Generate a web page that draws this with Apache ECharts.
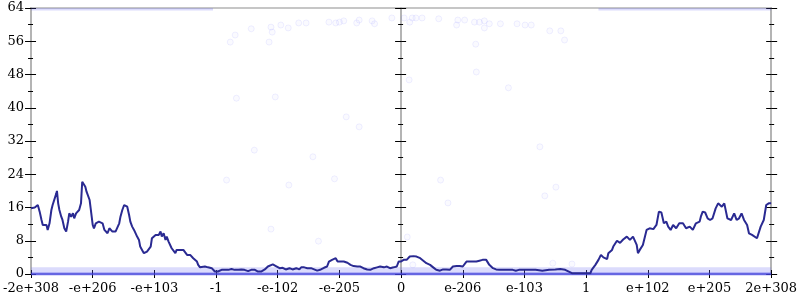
<!DOCTYPE html>
<html><head><meta charset="utf-8">
<script src="https://cdn.jsdelivr.net/npm/echarts@6/dist/echarts.min.js"></script>
<style>html,body{margin:0;padding:0;background:#fff}#c{width:800px;height:300px}</style>
</head><body><div id="c"></div>
<script>
const xTickLabels = ['-2e+308','-e+206','-e+103','-1','-e-102','-e-205','0','e-206','e-103','1','e+102','e+205','2e+308'];
const yTicks = [0, 8, 16, 24, 32, 40, 48, 56, 64];

const lineValues = [
[-6.00,15.8],[-5.97,15.6],[-5.94,16.0],[-5.91,15.6],[-5.89,16.6],[-5.86,15.0],[-5.83,13.0],[-5.81,11.8],[-5.78,11.4],[-5.75,11.8],[-5.73,10.6],[-5.70,12.2],[-5.67,15.4],[-5.65,16.6],[-5.62,16.6],[-5.59,19.4],[-5.58,20.0],[-5.56,17.0],[-5.54,15.4],[-5.51,13.8],[-5.49,13.0],[-5.46,11.0],[-5.43,10.2],[-5.40,12.6],[-5.38,14.6],[-5.35,13.8],[-5.32,14.6],[-5.30,13.4],[-5.27,14.6],[-5.24,15.0],[-5.22,15.4],[-5.19,17.0],[-5.17,22.2],[-5.15,22.6],[-5.12,21.0],[-5.10,19.8],[-5.07,19.8],[-5.05,17.8],[-5.03,15.4],[-5.00,11.8],[-4.98,11.0],[-4.95,12.2],[-4.92,11.8],[-4.90,12.6],[-4.87,12.2],[-4.84,12.2],[-4.81,10.6],[-4.79,11.0],[-4.76,9.8],[-4.73,11.0],[-4.71,10.6],[-4.68,10.2],[-4.65,10.6],[-4.63,10.2],[-4.60,10.6],[-4.57,12.2],[-4.55,13.8],[-4.52,15.4],[-4.49,16.6],[-4.47,16.6],[-4.44,16.2],[-4.41,14.2],[-4.39,12.6],[-4.36,11.4],[-4.33,10.6],[-4.31,10.2],[-4.28,9.0],[-4.25,8.2],[-4.23,6.6],[-4.20,5.8],[-4.17,5.0],[-4.14,4.6],[-4.12,5.4],[-4.09,5.4],[-4.06,6.6],[-4.04,8.6],[-4.01,9.0],[-3.98,9.4],[-3.96,9.8],[-3.93,9.4],[-3.90,10.2],[-3.88,9.0],[-3.85,9.8],[-3.82,8.2],[-3.80,9.0],[-3.77,7.8],[-3.74,7.4],[-3.72,6.2],[-3.69,5.8],[-3.66,5.0],[-3.64,5.8],[-3.61,6.2],[-3.58,5.8],[-3.55,6.2],[-3.53,5.8],[-3.50,5.4],[-3.47,4.6],[-3.45,4.2],[-3.42,4.6],[-3.39,4.6],[-3.37,3.8],[-3.34,3.4],[-3.31,3.0],[-3.29,2.2],[-3.26,1.6],[-3.23,1.4],[-3.18,1.8],[-3.13,1.6],[-3.07,1.4],[-3.02,0.6],[-2.97,0.6],[-2.91,1.0],[-2.86,1.0],[-2.80,1.0],[-2.75,1.2],[-2.70,1.0],[-2.64,1.0],[-2.59,1.1],[-2.54,1.0],[-2.48,0.7],[-2.43,1.0],[-2.37,1.0],[-2.32,0.6],[-2.27,0.6],
[-2.21,1.1],[-2.16,1.8],[-2.08,2.3],[-2.03,1.9],[-1.97,1.4],[-1.92,1.5],[-1.87,1.1],[-1.81,1.4],[-1.76,1.1],[-1.70,1.4],[-1.65,1.1],[-1.62,1.6],[-1.57,1.6],[-1.52,1.4],[-1.46,1.4],[-1.41,1.1],[-1.36,0.8],[-1.30,1.1],[-1.25,1.5],[-1.20,1.8],[-1.17,3.0],[-1.12,3.4],[-1.06,3.8],[-1.03,3.0],[-0.98,3.0],[-0.93,3.0],[-0.87,2.7],[-0.82,2.2],[-0.77,1.9],[-0.71,1.8],[-0.66,1.8],[-0.61,1.4],[-0.55,1.1],[-0.50,1.0],[-0.44,1.4],[-0.39,1.6],[-0.34,1.8],[-0.28,1.6],[-0.23,1.8],[-0.18,1.4],[-0.12,1.6],[-0.07,1.8],[-0.04,3.0],[0.00,3.0],[0.04,3.4],[0.09,3.4],[0.14,4.2],[0.20,4.3],[0.25,4.2],[0.31,3.8],[0.36,3.2],[0.41,2.6],[0.47,2.2],[0.52,1.6],[0.57,1.0],[0.63,0.8],[0.68,1.1],[0.73,1.1],[0.79,1.0],[0.84,1.8],[0.90,1.9],[0.95,1.9],[1.00,1.8],[1.06,3.0],[1.11,3.0],[1.16,3.0],[1.22,3.0],[1.27,3.2],[1.32,3.4],[1.38,3.4],[1.43,2.2],[1.49,1.4],[1.54,1.1],[1.59,1.0],[1.65,1.0],[1.70,1.0],[1.75,1.0],[1.81,1.0],[1.86,0.8],[1.91,1.0],[1.97,1.0],[2.02,1.0],
[2.18,1.0],[2.29,0.8],[2.40,1.0],[2.50,1.1],[2.58,1.2],[2.66,1.0],[2.77,0.2],[2.88,0.2],[2.99,0.2],[3.07,0.2],[3.09,1.0],[3.15,2.2],[3.20,3.4],[3.24,4.6],[3.28,4.0],[3.34,3.6],[3.36,5.0],[3.42,5.8],[3.44,6.6],[3.50,8.0],[3.55,7.5],[3.60,8.3],[3.66,9.0],[3.71,8.2],[3.76,9.0],[3.82,7.0],[3.84,5.0],[3.87,5.8],[3.90,5.4],[3.92,7.0],[3.98,10.6],[4.03,11.0],[4.09,10.8],[4.14,11.8],[4.18,15.0],[4.22,14.8],[4.26,12.2],[4.30,12.6],[4.33,11.4],[4.37,10.6],[4.41,11.8],[4.46,11.0],[4.51,12.2],[4.57,12.2],[4.62,11.0],[4.68,11.4],[4.73,10.6],[4.78,12.2],[4.84,12.6],[4.86,13.8],[4.89,15.0],[4.93,14.8],[4.97,13.4],[5.01,13.0],[5.05,13.4],[5.10,15.8],[5.14,17.0],[5.20,16.2],[5.24,17.0],[5.29,13.4],[5.35,13.0],[5.40,14.6],[5.44,13.0],[5.48,13.4],[5.52,14.6],[5.56,13.0],[5.61,11.8],[5.64,9.8],[5.69,9.4],[5.77,8.6],[5.83,11.4],[5.88,13.0],[5.92,16.6],[5.96,17.0],[6.00,17.0]
];

const sparsePoints = [
[-2.77,55.8],[-2.69,57.5],[-2.43,59.0],[-2.14,55.8],[-2.11,59.4],[-2.09,58.2],[-1.95,59.9],[-1.83,59.2],[-1.66,60.4],[-1.54,60.4],[-1.17,60.6],[-1.06,60.4],[-1.00,60.6],[-0.93,60.9],[-0.72,60.4],[-0.68,61.1],[-0.47,60.9],[-0.43,60.2],[-0.15,61.6],[0.05,61.6],[0.14,60.6],[0.18,61.6],[0.24,61.6],[0.34,61.6],[0.61,61.4],[0.90,59.9],[0.92,61.1],[1.03,61.1],[1.19,60.6],[1.27,60.6],[1.35,60.9],[1.35,59.2],[1.43,60.2],[1.61,60.2],[1.88,60.2],[2.01,59.9],[2.11,59.9],[2.41,58.5],[2.59,58.5],[2.65,56.3],[1.21,55.3],[1.22,48.6],[0.13,46.7],[1.74,44.8],[-2.67,42.3],[-2.04,42.6],[-0.89,37.8],[-0.68,35.4],[-2.38,29.8],[-1.43,28.2],[2.25,30.6],[-1.82,21.4],[-1.08,22.9],[-2.83,22.6],[-2.11,10.8],[-1.34,7.9],[0.10,8.9],[0.64,22.6],[0.76,17.1],[0.19,2.2],[2.51,20.9],[2.33,18.8],[2.46,2.6],[2.77,2.4]
];

const bandZero = [[-6,0],[6,0]];
const bandOne = [[-6,1],[6,1]];
const bandTop = [[-6,63.7],[-3.05,63.7],[null,null],[3.2,63.7],[6,63.7]];

const gray = '#b4b4b4';
const font = 'DejaVu Serif';

function yAx(pos, inside, labels, onZero) {
  return {
    type: 'value', position: pos, min: 0, max: 64, interval: 8,
    axisLine: { show: true, onZero: !!onZero, onZeroAxisIndex: 0, lineStyle: { color: gray, width: 2 } },
    axisTick: { show: true, inside: inside, length: inside ? 5 : 6, lineStyle: { color: '#000', width: 1 } },
    minorTick: { show: true, splitNumber: 2, length: inside ? 2 : 3, lineStyle: { color: '#000', width: 1 } },
    axisLabel: { show: labels, color: '#000', fontFamily: font, fontSize: 13, margin: 7,
      formatter: v => yTicks.indexOf(v) >= 0 ? String(v) : '' },
    splitLine: { show: false }
  };
}
function xAx(pos, inside, labels, line, ticks) {
  return {
    type: 'value', position: pos, min: -6, max: 6, interval: 1,
    axisLine: { show: line, onZero: false, lineStyle: { color: gray, width: 1.5 } },
    axisTick: { show: ticks, inside: inside, length: 4, lineStyle: { color: '#000', width: 1 } },
    axisLabel: { show: labels, color: '#000', fontFamily: font, fontSize: 13, margin: 8,
      formatter: v => xTickLabels[Math.round(v) + 6] },
    splitLine: { show: false }
  };
}

const chart = echarts.init(document.getElementById('c'), null, { renderer: 'canvas' });
chart.setOption({
  animation: false,
  grid: { left: 28, right: 26, top: 8, bottom: 26, containLabel: false },
  xAxis: [
    xAx('bottom', false, true, true, true),
    xAx('bottom', true, false, false, true),
    xAx('top', false, false, true, false)
  ],
  yAxis: [
    yAx('left', false, true, false),
    yAx('left', true, false, false),
    yAx('right', false, false, false),
    yAx('right', true, false, false),
    yAx('left', false, false, true),
    yAx('left', true, false, true)
  ],
  series: [
    { type: 'line', data: bandOne, showSymbol: false, symbol: 'none', silent: true, z: 1,
      lineStyle: { color: 'rgba(110,110,245,0.25)', width: 5 } },
    { type: 'line', data: bandZero, showSymbol: false, symbol: 'none', silent: true, z: 3,
      lineStyle: { color: 'rgba(70,70,235,0.75)', width: 3 } },
    { type: 'line', data: bandTop, showSymbol: false, symbol: 'none', silent: true, z: 1, connectNulls: false,
      lineStyle: { color: 'rgba(90,90,240,0.22)', width: 2.5 } },
    { type: 'scatter', data: sparsePoints, symbolSize: 6, silent: true, z: 1,
      itemStyle: { color: 'rgba(120,120,255,0.05)', borderColor: 'rgba(100,100,255,0.12)', borderWidth: 1 } },
    { type: 'line', data: lineValues, showSymbol: false, symbol: 'none', z: 5,
      lineStyle: { color: '#2a2a92', width: 2 } }
  ]
});
</script></body></html>
